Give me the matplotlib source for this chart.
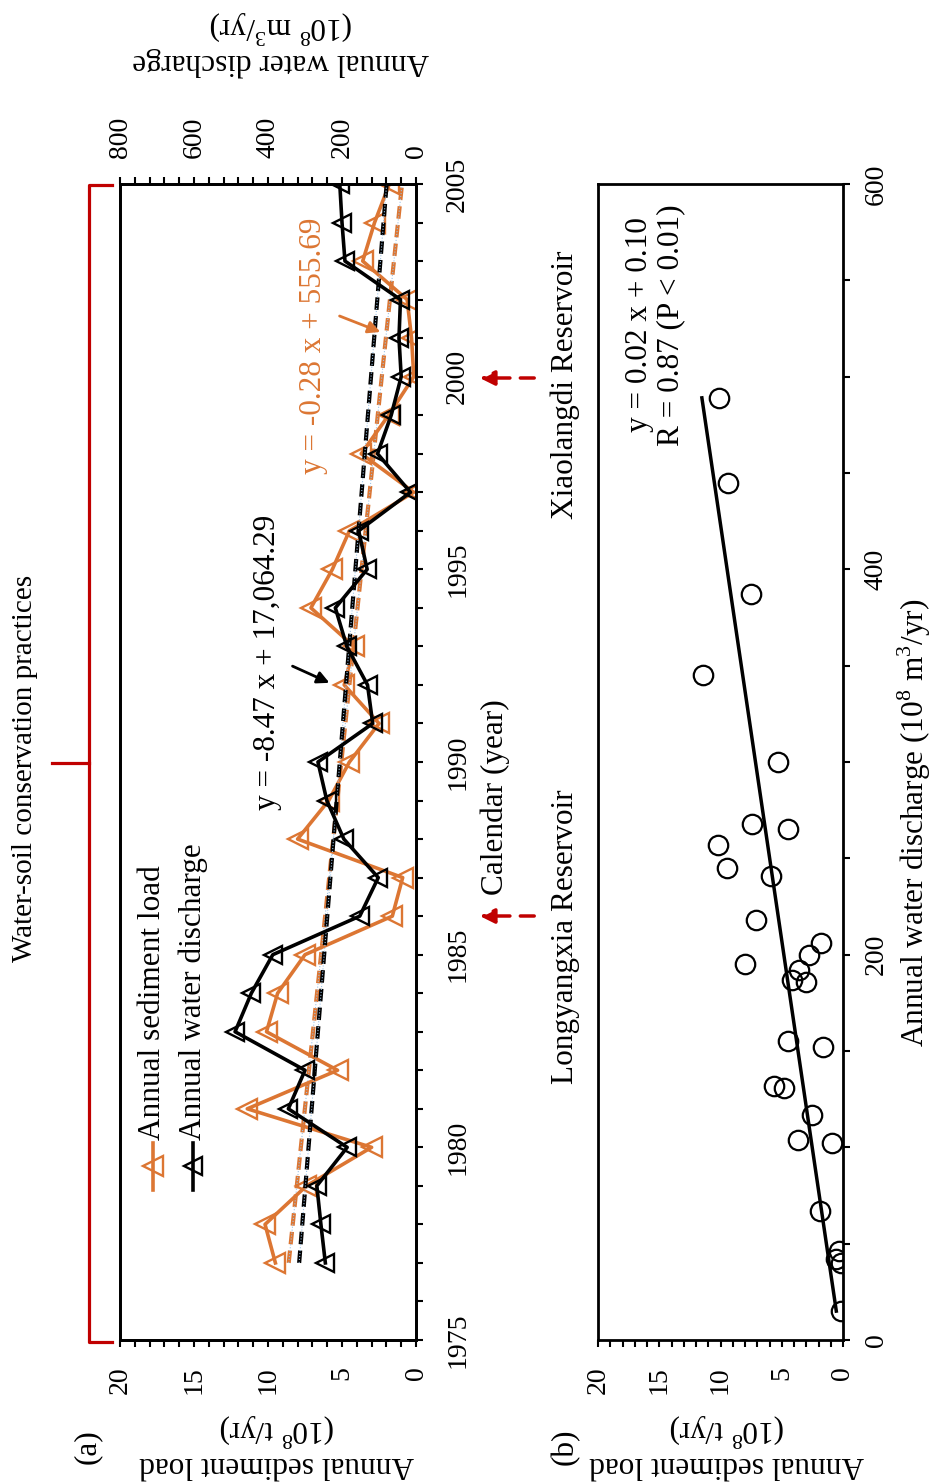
import numpy as np
import matplotlib.pyplot as plt
from matplotlib.ticker import MultipleLocator

plt.rcParams['font.family'] = ['Liberation Serif', 'DejaVu Serif']
plt.rcParams['mathtext.fontset'] = 'custom'
plt.rcParams['mathtext.rm'] = 'Liberation Serif'

# annual series, 1977-2005
years = np.arange(1977, 2006)
sediment = [9.5, 10.2, 7.4, 3.0, 11.4, 5.3, 10.1, 9.35, 7.5, 1.6,
            0.9, 8.0, 5.9, 4.5, 2.5, 4.85, 4.2, 7.1, 5.65, 4.5,
            0.15, 3.7, 1.85, 0.15, 0.3, 0.6, 3.6, 2.8, 1.8]       # 10^8 t/yr
discharge = [245, 257, 268, 186, 345, 300, 489, 445, 387, 152,
             102, 195, 241, 265, 117, 131, 187, 218, 132, 155,
             15, 104, 67, 40, 46, 42, 192, 200, 206]               # 10^8 m3/yr

sed_color = '#dc7633'
red = '#c00000'
fs = 22.5
tick_fs = 20

W, H = 944, 1483
fig = plt.figure(figsize=(W / 100, H / 100), dpi=100)


def box(x0, y0, x1, y1):
    return [x0 / W, 1 - y1 / H, (x1 - x0) / W, (y1 - y0) / H]


def ftext(x, y, s, **kw):
    fig.text(x / W, 1 - y / H, s, **kw)


# ---- (a) time series, drawn turned on its side ----
ax = fig.add_axes(box(120, 184, 416, 1340))
axq = ax.twiny()

ax.set_xlim(20, 0)
ax.set_ylim(1975, 2005)
axq.set_xlim(800, 0)

# trend lines
fit_s = np.polyfit(years, sediment, 1)
fit_q = np.polyfit(years, discharge, 1)
ax.plot(np.polyval(fit_s, years), years, color=sed_color, lw=3, ls=(0, (3, 1.5)))
ax.plot(np.polyval(fit_s, years), years, color='#9dc3e6', lw=0.8, ls=':')
axq.plot(np.polyval(fit_q, years), years, color='k', lw=3, ls=(0, (3, 1.5)))
axq.plot(np.polyval(fit_q, years), years, color='#9dc3e6', lw=0.8, ls=':')

ax.plot(sediment, years, color=sed_color, lw=2.6, marker='<', ms=14,
        mfc='none', mec=sed_color, mew=1.7)
axq.plot(discharge, years, color='k', lw=2.6, marker='<', ms=13,
         mfc='none', mec='k', mew=1.7)

ax.xaxis.set_major_locator(MultipleLocator(5))
ax.xaxis.set_minor_locator(MultipleLocator(1))
ax.yaxis.set_major_locator(MultipleLocator(5))
ax.yaxis.set_minor_locator(MultipleLocator(1))
ax.yaxis.tick_right()
ax.tick_params(axis='x', which='both', direction='out', length=5, width=1.5,
               labelsize=tick_fs, pad=14, labelrotation=90)
ax.tick_params(axis='y', which='both', direction='out', length=5, width=1.5,
               labelsize=tick_fs, pad=16, labelrotation=90)
for t in ax.get_yticklabels():
    t.set_verticalalignment('center')

axq.xaxis.set_major_locator(MultipleLocator(200))
axq.xaxis.set_minor_locator(MultipleLocator(40))
axq.tick_params(axis='x', which='both', direction='out', length=5, width=1.5,
                labelsize=tick_fs, pad=14, labelrotation=90)

for a in (ax, axq):
    for sp in a.spines.values():
        sp.set_linewidth(2)

# ---- (b) sediment load against water discharge ----
axb = fig.add_axes(box(598, 184, 843, 1340))
axb.set_xlim(20, 0)
axb.set_ylim(0, 600)
axb.plot(sediment, discharge, 'o', ms=14, mfc='none', mec='k', mew=1.6)
fit_b = np.polyfit(discharge, sediment, 1)
q = np.array([min(discharge), max(discharge)])
axb.plot(np.polyval(fit_b, q), q, color='k', lw=2.5)

axb.xaxis.set_major_locator(MultipleLocator(5))
axb.xaxis.set_minor_locator(MultipleLocator(1))
axb.yaxis.set_major_locator(MultipleLocator(200))
axb.yaxis.set_minor_locator(MultipleLocator(50))
axb.yaxis.tick_right()
axb.tick_params(axis='x', which='both', direction='out', length=5, width=1.5,
                labelsize=tick_fs, pad=14, labelrotation=90)
axb.tick_params(axis='y', which='both', direction='out', length=5, width=1.5,
                labelsize=tick_fs, pad=10, labelrotation=90)
for t in axb.get_yticklabels():
    t.set_verticalalignment('center')
for sp in axb.spines.values():
    sp.set_linewidth(2)

# ---- text ----
ftext(277, 1445, 'Annual sediment load\n(10$^8$ t/yr)', rotation=180,
      ha='center', va='center', fontsize=fs, linespacing=1.05)
ftext(727, 1445, 'Annual sediment load\n(10$^8$ t/yr)', rotation=180,
      ha='center', va='center', fontsize=fs, linespacing=1.05)
ftext(281, 42, 'Annual water discharge\n(10$^8$ m$^3$/yr)', rotation=180,
      ha='center', va='center', fontsize=fs, linespacing=1.05)
ftext(87, 1447, '(a)', rotation=90, ha='center', va='center', fontsize=fs)
ftext(565, 1447, '(b)', rotation=90, ha='center', va='center', fontsize=fs)
ftext(495, 797, 'Calendar (year)', rotation=90, ha='center', va='center', fontsize=fs)
ftext(914, 823, 'Annual water discharge (10$^8$ m$^3$/yr)', rotation=90,
      ha='center', va='center', fontsize=fs)
ftext(25, 768, 'Water-soil conservation practices', rotation=90,
      ha='center', va='center', fontsize=21)
ftext(565, 937, 'Longyangxia Reservoir', rotation=90, ha='center', va='center', fontsize=fs)
ftext(565, 385, 'Xiaolangdi Reservoir', rotation=90, ha='center', va='center', fontsize=fs)

ftext(267, 662, 'y = -8.47 x + 17,064.29', rotation=90, ha='center', va='center', fontsize=fs)
ftext(313, 346, 'y = -0.28 x + 555.69', rotation=90, ha='center', va='center',
      fontsize=fs, color=sed_color)
ftext(655, 325, 'y = 0.02 x + 0.10\nR = 0.87 (P < 0.01)', rotation=90,
      ha='center', va='center', fontsize=fs, multialignment='center', linespacing=1.1)

ftext(153, 1140, 'Annual sediment load', rotation=90, ha='center', va='bottom', fontsize=fs)
ftext(193, 1140, 'Annual water discharge', rotation=90, ha='center', va='bottom', fontsize=fs)

# ---- overlay in pixel units: brace, legend keys, arrows ----
ov = fig.add_axes([0, 0, 1, 1], zorder=10)
ov.set_xlim(0, W)
ov.set_ylim(H, 0)
ov.axis('off')

ov.plot([112, 89, 89, 112], [185, 185, 1342, 1342], color=red, lw=2.3)
ov.plot([52, 89], [763, 763], color=red, lw=2.3)

ov.plot([153, 153], [1143, 1190], color=sed_color, lw=2.6)
ov.plot([153], [1166], marker='<', ms=14, mfc='none', mec=sed_color, mew=1.7)
ov.plot([193, 193], [1143, 1190], color='k', lw=2.6)
ov.plot([193], [1166], marker='<', ms=13, mfc='none', mec='k', mew=1.7)

ov.annotate('', xy=(332, 684), xytext=(290, 665),
            arrowprops=dict(arrowstyle='-|>', color='k', lw=2, mutation_scale=18))
ov.annotate('', xy=(383, 333), xytext=(337, 315),
            arrowprops=dict(arrowstyle='-|>', color=sed_color, lw=2, mutation_scale=18))

for yy in (916, 378):
    ov.annotate('', xy=(477, yy), xytext=(537, yy),
                arrowprops=dict(arrowstyle='-|>', color=red, lw=2.5, ls=(0, (4, 3)),
                                mutation_scale=22))

fig.savefig('out.png', dpi=100)
